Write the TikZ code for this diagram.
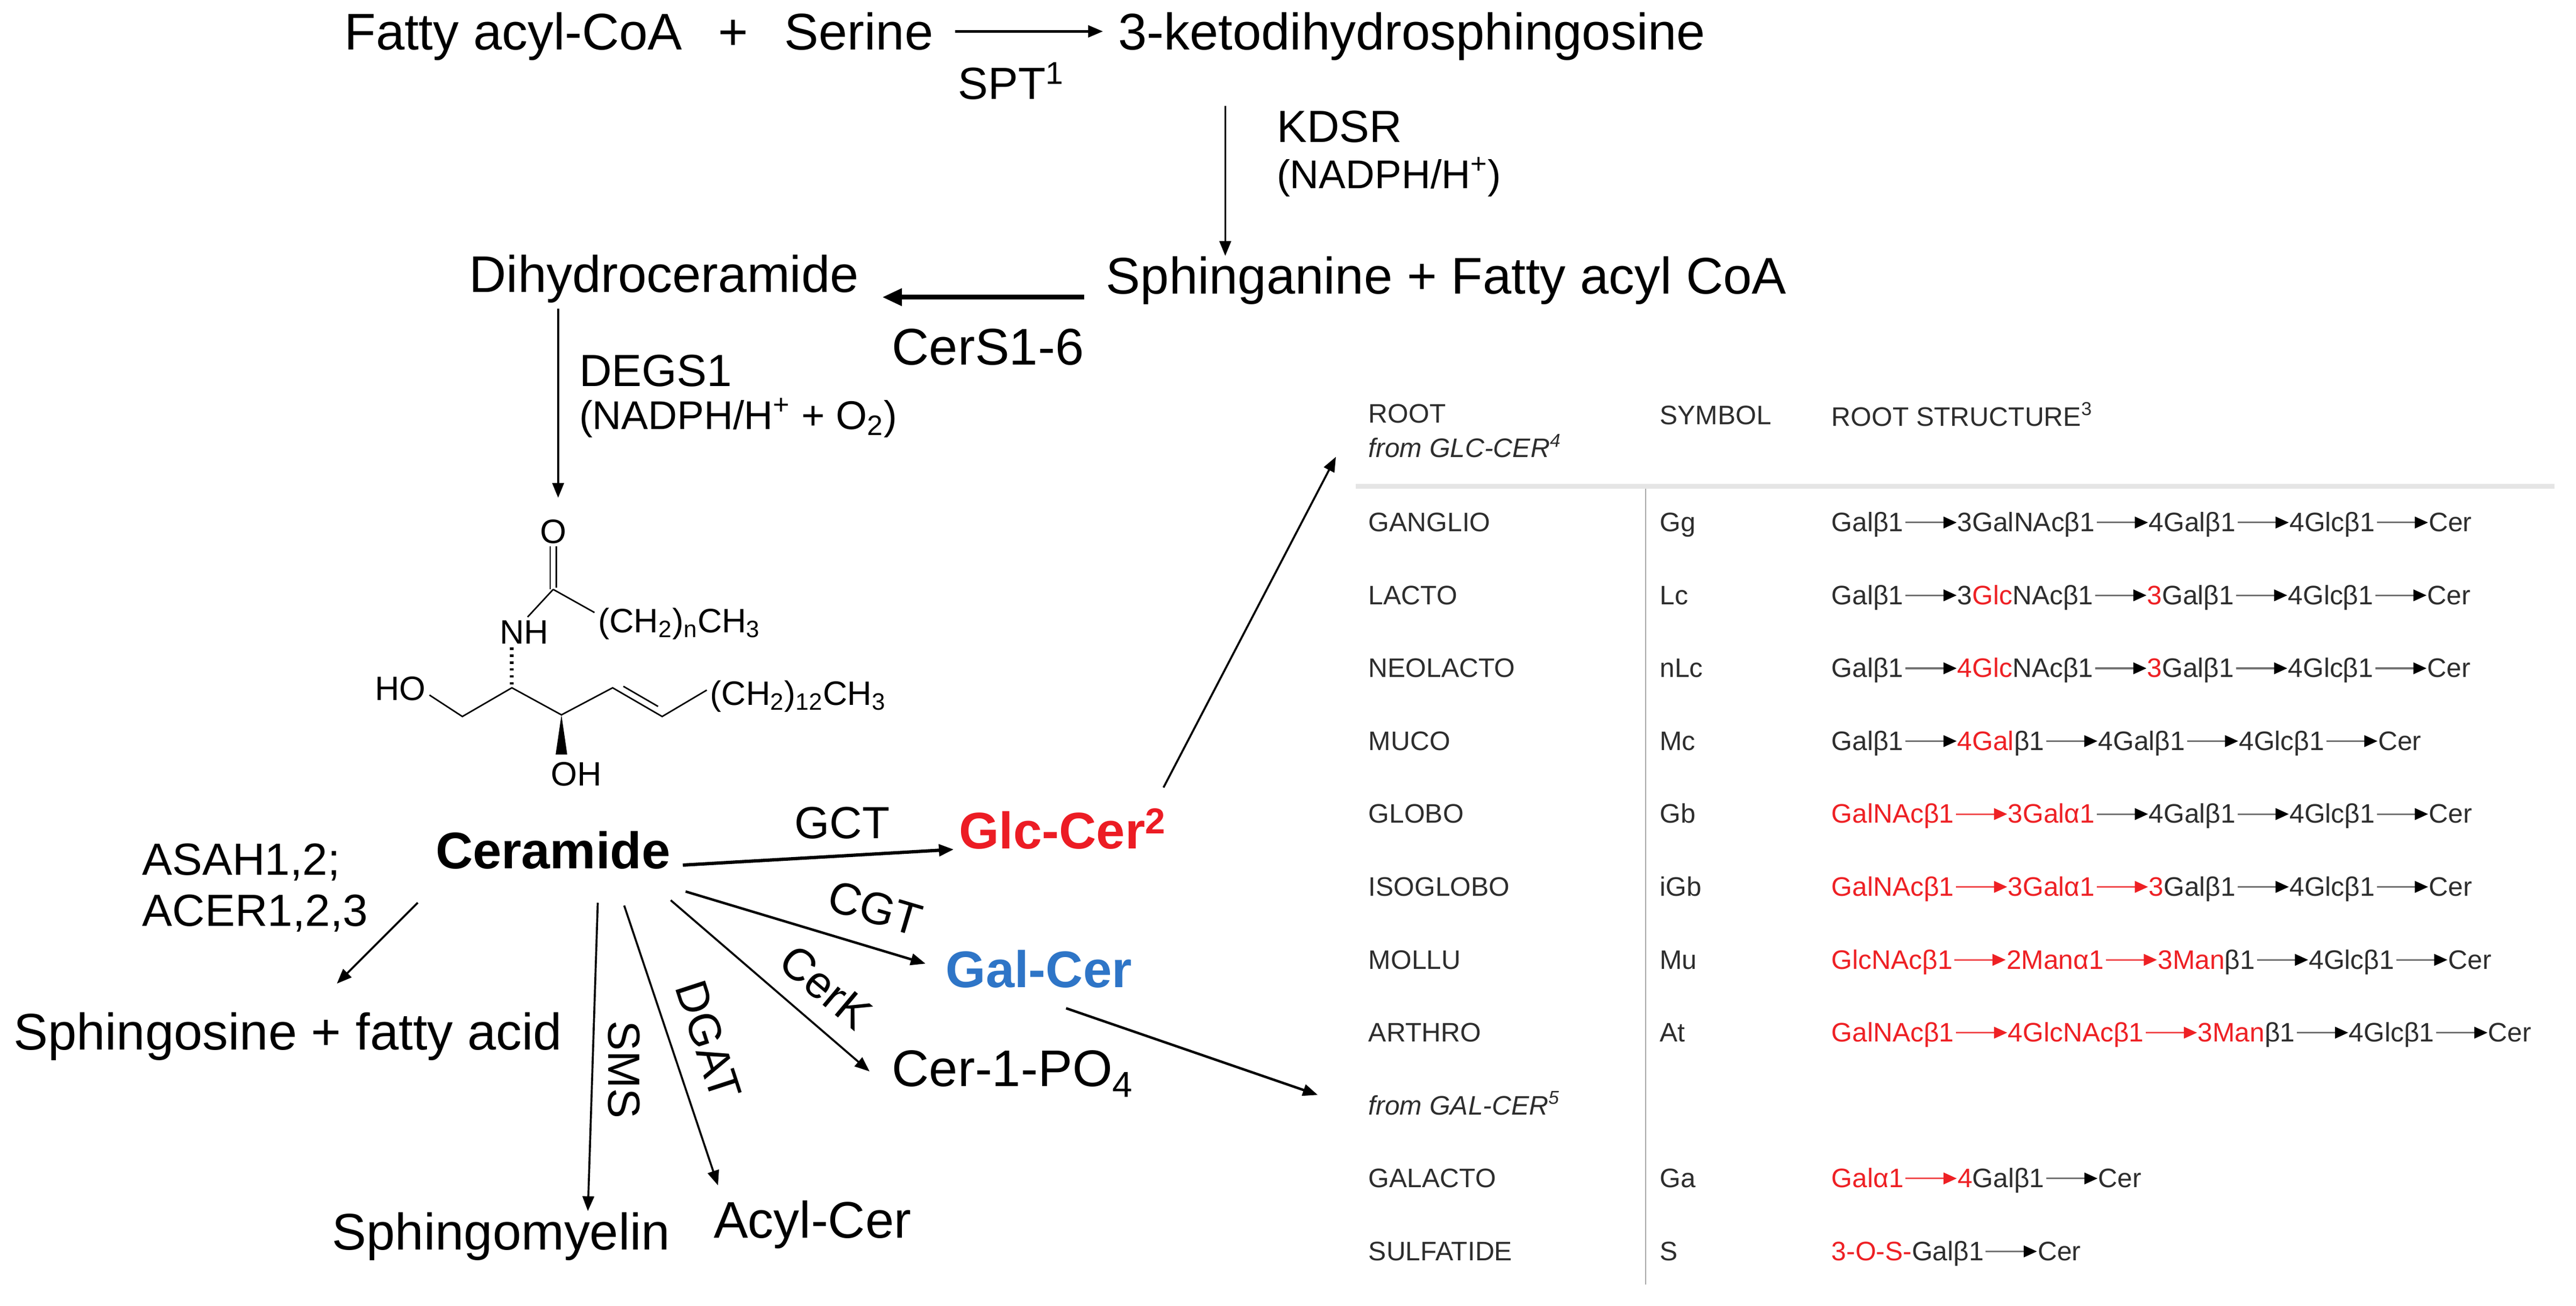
\documentclass[tikz,border=0pt]{standalone}
\usepackage{fontspec}
\setmainfont{Liberation Sans}
\usetikzlibrary{arrows.meta,calc}
\definecolor{glcred}{RGB}{236,28,36}
\definecolor{galblue}{RGB}{46,117,199}
\definecolor{tabred}{RGB}{238,32,36}
\definecolor{tabtext}{RGB}{45,45,45}
\newcommand\rd[1]{\textcolor{tabred}{#1}}
\newcommand\glychain[3]{%
  \foreach [count=\glyi] \glyt/\glyc in {#3}{%
    \ifnum\glyi=1
      \node[tab] (#1-\glyi) at (1109,#2) {\glyt};
    \else
      \pgfmathtruncatemacro\glyj{\glyi-1}%
      \node[tab] (#1-\glyi) at ($(#1-\glyj.base east)+(32.3,0)$) {\glyt};
      \draw[\glyc] ([xshift=1pt,yshift=5.5pt]#1-\glyj.base east) -- ([xshift=-0.3pt,yshift=5.5pt]#1-\glyi.base west);
    \fi
  }%
}
\tikzset{
  main/.style={font=\fontsize{31.2}{37}\selectfont, inner sep=0pt, anchor=base west},
  mainb/.style={main, font=\fontsize{31.2}{37}\selectfont\bfseries},
  enz/.style={font=\fontsize{27.3}{32}\selectfont, inner sep=0pt, anchor=base west},
  enzr/.style={font=\fontsize{27.3}{32}\selectfont, inner sep=0pt},
  cof/.style={font=\fontsize{24.3}{29}\selectfont, inner sep=0pt, anchor=base west},
  chem/.style={font=\fontsize{20.5}{24}\selectfont, inner sep=0pt},
  tab/.style={font=\fontsize{16.2}{19}\selectfont, inner sep=0pt, anchor=base west, text=tabtext},
  arr/.style={line width=1.2pt, -{Triangle[length=9pt,width=7pt]}},
  ka/.style={line width=1pt, draw=black!55, -{Triangle[length=8pt,width=7pt,color=black]}},
  ra/.style={line width=1pt, draw=tabred!80, -{Triangle[length=8pt,width=7pt,color=tabred]}},
  bond/.style={line width=0.9pt},
}
\begin{document}
\begin{tikzpicture}[x=1pt,y=-1pt]
\fill[white] (0,0) rectangle (1560,790.8);
\useasboundingbox (0,0) rectangle (1560,790.8);

% ---------- upper pathway ----------
\node[main] (fa) at (208.4,30) {Fatty acyl-CoA\hspace{0.7em}+\hspace{0.7em}Serine};
\node[main] (keto) at (677,30) {3-ketodihydrosphingosine};
\node[enz] (spt) at (580,60) {SPT\textsuperscript{1}};
\node[enz] (kdsr) at (773,86) {KDSR};
\node[cof] (nad1) at (773,114) {(NADPH/H\textsuperscript{+})};
\node[main] (sph) at (669.7,178) {Sphinganine + Fatty acyl CoA};
\node[main] (dihy) at (284,177) {Dihydroceramide};
\node[main] (cers) at (540,221) {CerS1-6};
\node[enz] (degs) at (350.6,234) {DEGS1};
\node[cof] (nad2) at (350.6,260) {(NADPH/H\textsuperscript{+} + O\textsubscript{2})};

\draw[arr, line width=1.8pt] ($(fa.base east)+(13,-11)$) -- ($(keto.base west)+(-9,-11)$);
\draw[arr] ($(keto.base west)+(65,34)$) -- ($(sph.base west)+(72.3,-23)$);
\draw[line width=3pt, -{Triangle[length=12pt,width=10pt]}] ($(sph.base west)+(-13,2)$) -- ($(dihy.base east)+(14,3)$);

% ---------- ceramide structure ----------
\node[chem] (oxy) at (335,322) {O};
\coordinate (c1) at (335,357);
\node[chem] (nh) at (317.5,383) {NH};
\node[chem, anchor=base west] (acyl) at (362,383) {(CH\textsubscript{2})\textsubscript{n}CH\textsubscript{3}};
\coordinate (c2) at (310,416.6);
\node[chem] (ho) at (242.5,417) {HO};
\coordinate (c0) at (280,434);
\coordinate (c3) at (340,433);
\coordinate (c4) at (371,416.6);
\coordinate (c5) at (401,434);
\node[chem, anchor=base west] (tail) at (430,427) {(CH\textsubscript{2})\textsubscript{12}CH\textsubscript{3}};
\node[chem] (oh) at (349,469) {OH};

\draw[arr] ($(dihy.base west)+(54,10)$) -- ($(oxy.north)+(3,-13)$);

\draw[bond] ($(oxy.south)+(-1.8,1.5)$) -- ($(c1)+(-1.8,0)$);
\draw[bond] ($(oxy.south)+(1.8,1.5)$) -- ($(c1)+(1.8,-1)$);
\draw[bond] (c1) -- ($(nh.north)+(2,-2)$);
\draw[bond] (c1) -- ($(acyl.base west)+(-2,-12)$);
\draw[line width=2.2pt, dash pattern=on 1.4pt off 2.8pt] ($(nh.south)+(-7.5,2)$) -- (c2);
\draw[bond] ($(ho.east)+(2,4)$) -- (c0) -- (c2) -- (c3) -- (c4) -- (c5) -- ($(tail.base west)+(-2,-9)$);
\draw[bond] ($(c4)!0.15!(c5)+(2,-3.5)$) -- ($(c4)!0.85!(c5)+(2,-3.5)$);
\fill (c3) -- ($(c3)+(-3.5,24)$) -- ($(c3)+(3.5,24)$) -- cycle;

% ---------- ceramide and products ----------
\node[mainb] (cer) at (263.6,526) {Ceramide};
\node[enz] (gct) at (481,508) {GCT};
\node[mainb, text=glcred] (glc) at (580.6,514) {Glc-Cer\textsuperscript{2}};
\node[enz] (asah) at (86,530) {ASAH1,2;};
\node[enz] (acer) at (86,561) {ACER1,2,3};
\node[enzr, rotate=-16.5] (cgt) at (530,550) {CGT};
\node[mainb, text=galblue] (gal) at (572.5,598) {Gal-Cer};
\node[enzr, rotate=-40] (cerk) at (500,598) {CerK};
\node[main] (sph2) at (8,636) {Sphingosine + fatty acid};
\node[main] (c1p) at (540,658) {Cer-1-PO\textsubscript{4}};
\node[enzr, rotate=-90] (sms) at (378,648) {SMS};
\node[enzr, rotate=-72] (dgat) at (429,630) {DGAT};
\node[main] (sm) at (201,757) {Sphingomyelin};
\node[main] (acylcer) at (432,750) {Acyl-Cer};

\draw[arr, line width=2pt] ($(cer.base east)+(7.3,-2)$) -- ($(glc.base west)+(-3,0.5)$);
\draw[arr, line width=1.5pt] ($(cer.base east)+(9,14)$) -- ($(gal.base west)+(-12,-14.3)$);
\draw[arr] ($(cer.base east)+(0,19.3)$) -- ($(c1p.base west)+(-13.4,-9)$);
\draw[arr] ($(cer.base west)+(98.4,20.8)$) -- ($(sm.base west)+(155,-23.4)$);
\draw[arr] ($(cer.base west)+(114.4,22.5)$) -- ($(acylcer.base west)+(2.8,-32)$);
\draw[arr] ($(cer.base west)+(-10.6,20.8)$) -- ($(sph2.base west)+(196,-40.2)$);

% ---------- table ----------
\node[tab] (hroot) at (828.6,256) {ROOT};
\node[tab, font=\fontsize{16.2}{19}\selectfont\itshape] (fromglc) at (828.6,277) {from GLC-CER\textsuperscript{4}};
\node[tab] (hsym) at (1005,257) {SYMBOL};
\node[tab] (hstr) at (1109,258) {ROOT STRUCTURE\textsuperscript{3}};
\draw[line width=2.8pt, black!10] (821,294.5) -- (1547,294.5);
\draw[line width=0.7pt, black!35] (996.5,296) -- (996.5,778);

\node[tab] (n1) at (828.6,322) {GANGLIO};
\node[tab] (s1) at (1005,322) {Gg};
\glychain{r1}{322}{Galβ1/ka, 3GalNAcβ1/ka, 4Galβ1/ka, 4Glcβ1/ka, Cer/ka}
\node[tab] (n2) at (828.6,366.1) {LACTO};
\node[tab] (s2) at (1005,366.1) {Lc};
\glychain{r2}{366.1}{Galβ1/ka, 3\rd{Glc}NAcβ1/ka, \rd{3}Galβ1/ka, 4Glcβ1/ka, Cer/ka}
\node[tab] (n3) at (828.6,410.3) {NEOLACTO};
\node[tab] (s3) at (1005,410.3) {nLc};
\glychain{r3}{410.3}{Galβ1/ka, \rd{4Glc}NAcβ1/ka, \rd{3}Galβ1/ka, 4Glcβ1/ka, Cer/ka}
\node[tab] (n4) at (828.6,454.4) {MUCO};
\node[tab] (s4) at (1005,454.4) {Mc};
\glychain{r4}{454.4}{Galβ1/ka, \rd{4Gal}β1/ka, 4Galβ1/ka, 4Glcβ1/ka, Cer/ka}
\node[tab] (n5) at (828.6,498.6) {GLOBO};
\node[tab] (s5) at (1005,498.6) {Gb};
\glychain{r5}{498.6}{\rd{GalNAcβ1}/ka, \rd{3Galα1}/ra, 4Galβ1/ka, 4Glcβ1/ka, Cer/ka}
\node[tab] (n6) at (828.6,542.7) {ISOGLOBO};
\node[tab] (s6) at (1005,542.7) {iGb};
\glychain{r6}{542.7}{\rd{GalNAcβ1}/ka, \rd{3Galα1}/ra, \rd{3}Galβ1/ra, 4Glcβ1/ka, Cer/ka}
\node[tab] (n7) at (828.6,586.9) {MOLLU};
\node[tab] (s7) at (1005,586.9) {Mu};
\glychain{r7}{586.9}{\rd{GlcNAcβ1}/ka, \rd{2Manα1}/ra, \rd{3Man}β1/ra, 4Glcβ1/ka, Cer/ka}
\node[tab] (n8) at (828.6,631) {ARTHRO};
\node[tab] (s8) at (1005,631) {At};
\glychain{r8}{631}{\rd{GalNAcβ1}/ka, \rd{4GlcNAcβ1}/ra, \rd{3Man}β1/ra, 4Glcβ1/ka, Cer/ka}
\node[tab, font=\fontsize{16.2}{19}\selectfont\itshape] (fromgal) at (828.6,675.2) {from GAL-CER\textsuperscript{5}};
\node[tab] (n10) at (828.6,719.3) {GALACTO};
\node[tab] (s10) at (1005,719.3) {Ga};
\glychain{r10}{719.3}{\rd{Galα1}/ka, \rd{4}Galβ1/ra, Cer/ka}
\node[tab] (n11) at (828.6,763.5) {SULFATIDE};
\node[tab] (s11) at (1005,763.5) {S};
\glychain{r11}{763.5}{\rd{3-O-S-}Galβ1/ka, Cer/ka}

% ---------- links to table ----------
\draw[arr, line width=1.5pt] ($(gal.base east)+(-40,12.7)$) -- ($(fromgal.base west)+(-30.6,-12)$);
\draw[arr] ($(glc.base west)+(124,-37)$) -- ($(fromglc.base west)+(-19.6,-0.3)$);
\end{tikzpicture}
\end{document}
